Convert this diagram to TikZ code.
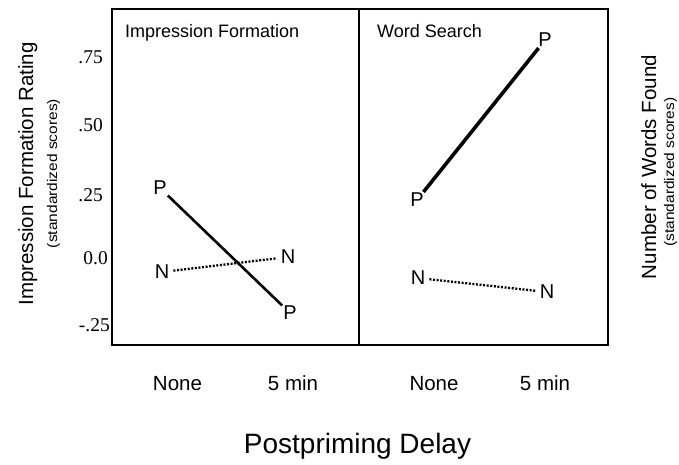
\documentclass[tikz,border=0pt]{standalone}
\usepackage{fontspec}
\setmainfont{Liberation Sans}
\newfontfamily\tickfont{Liberation Serif}
\begin{document}
\begin{tikzpicture}[x=1pt,y=-1pt,
  frame/.style={line width=1.3pt},
  mk/.style={inner sep=1pt, font=\fontsize{20}{20}\selectfont},
  tick/.style={inner sep=0pt, anchor=east, font=\tickfont\fontsize{19.5}{19.5}\selectfont},
  paneltitle/.style={inner sep=0pt, anchor=base west, font=\fontsize{18}{18}\selectfont},
  cond/.style={inner sep=0pt, anchor=base, font=\fontsize{20.5}{20.5}\selectfont},
  axlabel/.style={inner sep=0pt, anchor=base, rotate=90, font=\fontsize{20.5}{20.5}\selectfont},
  axsub/.style={inner sep=0pt, anchor=base, rotate=90, font=\fontsize{15.5}{15.5}\selectfont},
  primed/.style={line width=#1},
  neutral/.style={line width=2.3pt, dash pattern=on 2pt off 1.6pt, shorten <=3pt, shorten >=3pt}]
\useasboundingbox[fill=white] (0,0) rectangle (679,464);

% panel frames
\draw[frame] (112,9) rectangle (608,345);
\draw[frame] (359,9) -- (359,345);

% panel titles
\node[paneltitle] (titleA) at (125,37.5) {Impression Formation};
\node[paneltitle] (titleB) at (377,37) {Word Search};

% y tick labels
\node[tick] (t75) at (103,57) {.75};
\node[tick] (t50) at (103,125) {.50};
\node[tick] (t25) at (103,195) {.25};
\node[tick] (t00) at (108,258.5) {0.0};
\node[tick] (tm25) at (110,325) {-.25};

% axis titles
\node[axlabel] (ylab) at (33,174) {Impression Formation Rating};
\node[axsub] (ysub) at (57,173.5) {\scalebox{1}[0.9]{(standardized scores)}};
\node[axlabel] (y2lab) at (656,167) {Number of Words Found};
\node[axsub] (y2sub) at (674,172) {\scalebox{1}[0.9]{(standardized scores)}};

% delay conditions
\node[cond] (c1) at (177.5,390) {None};
\node[cond] (c2) at (293,390) {5 min};
\node[cond] (c3) at (434,390) {None};
\node[cond] (c4) at (545,390) {5 min};
\node[inner sep=0pt, anchor=base, font=\fontsize{28}{28}\selectfont] (xlab) at (357.5,453) {Postpriming Delay};

% impression formation data
\node[mk] (lp1) at (160,188) {P};
\node[mk] (lp2) at (290,313) {P};
\node[mk] (ln1) at (162,272) {N};
\node[mk] (ln2) at (288,257) {N};
\draw[primed=2.6pt] (lp1) -- (lp2);
\draw[neutral] (ln1) -- (ln2);

% word search data
\node[mk] (rp1) at (417,200) {P};
\node[mk] (rp2) at (545,40) {P};
\node[mk] (rn1) at (418,278) {N};
\node[mk] (rn2) at (547,292) {N};
\draw[primed=3.6pt] (rp1) -- (rp2);
\draw[neutral] (rn1) -- (rn2);
\end{tikzpicture}
\end{document}
